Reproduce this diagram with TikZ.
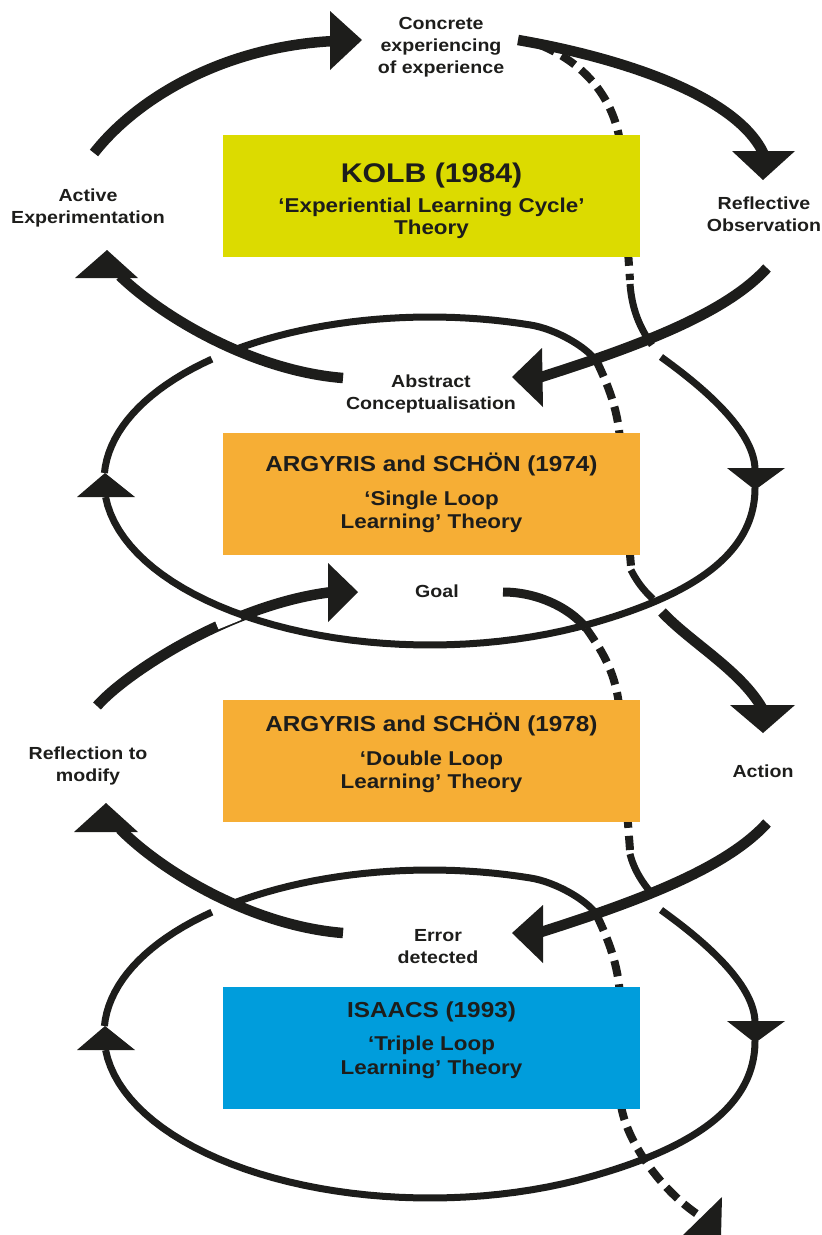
\documentclass[tikz,border=0pt]{standalone}
\usepackage{fontspec}
\setmainfont{Liberation Sans}[FakeStretch=1.12]
\definecolor{ink}{HTML}{1D1D1B}
\definecolor{kolbcol}{HTML}{DCDB00}
\definecolor{ascol}{HTML}{F6AE35}
\definecolor{isaacscol}{HTML}{009DDC}
\tikzset{
  thickarc/.style={draw=ink,line width=10.5pt},
  midarc/.style={draw=ink,line width=9pt},
  thinloop/.style={draw=ink,line width=7pt},
  backdash/.style={draw=ink,line width=8pt,dash pattern=on 16pt off 8pt},
  eraser/.style={draw=white,line width=13pt},
  headfill/.style={fill=ink},
  theorybox/.style={rectangle,minimum width=417pt,minimum height=122pt,inner sep=0pt,draw=none},
  lab/.style={font=\fontsize{17.5}{22}\selectfont\bfseries,text=ink,align=center,inner sep=0pt},
  boxtext/.style={font=\fontsize{20}{23}\selectfont\bfseries,text=ink,align=center,inner sep=0pt},
  frontloop/.pic={
    % right side, upper part (coming out from behind)
    \draw[thinloop] (661,357) .. controls (700,385) and (755,430) .. (755,470);
    % right side lower part, bottom and lower left side
    \draw[thinloop] (755,488) .. controls (755,560) and (680,598) .. (593,623)
      -- plot[domain=60:174.4,samples=40] ({430+326*cos(\x)},{481+164*sin(\x)});
    % left side upper part
    \draw[thinloop] plot[domain=182.8:228,samples=20] ({430+326*cos(\x)},{481+164*sin(\x)});
    % top arc, bending down at its right end
    \draw[thinloop] plot[domain=233:288,samples=25] ({430+326*cos(\x)},{481+164*sin(\x)})
      .. controls (555.7,329.1) and (587,347) .. (597,362);
    % arrowheads
    \fill[headfill] (755,490) -- (727,468) -- (785,468) -- cycle;
    \fill[headfill] (105,473) -- (77,497) -- (135,497) -- cycle;
  }
}
\begin{document}
\begin{tikzpicture}[x=1pt,y=-1pt]
\useasboundingbox (0,0) rectangle (822,1235);

% ---- back (hidden) parts of the spiral, dashed ----
\draw[backdash] (540,45) .. controls (590,65) and (617,105) .. (621,150) -- (630,280);
\draw[backdash] (597,362) .. controls (608,385) and (618,410) .. (620,440) -- (631,566);
\draw[backdash] (586,628) .. controls (600,648) and (615,670) .. (619,705) -- (630,850);
\draw[backdash] (597,916) .. controls (608,939) and (618,964) .. (620,995) -- (621,1105)
  .. controls (626,1140) and (660,1190) .. (700,1216);

% ---- theory boxes ----
\node[theorybox,fill=kolbcol] (kolb) at (431.5,196) {};
\node[theorybox,fill=ascol] (single) at (431.5,494) {};
\node[theorybox,fill=ascol] (double) at (431.5,761) {};
\node[theorybox,fill=isaacscol] (triple) at (431.5,1048) {};

\node[boxtext,font=\fontsize{20}{22}\selectfont\bfseries] (kolbtext) at (431.5,200.7)
  {{\fontsize{27}{30}\selectfont KOLB (1984)}\\[8.5pt]‘Experiential Learning Cycle’\\Theory};
\node[boxtext] (singletext) at (431.5,492.7)
  {{\fontsize{21.7}{26}\selectfont ARGYRIS and SCHÖN (1974)}\\[11.4pt]‘Single Loop\\Learning’ Theory};
\node[boxtext] (doubletext) at (431.5,753)
  {{\fontsize{21.7}{26}\selectfont ARGYRIS and SCHÖN (1978)}\\[10.9pt]‘Double Loop\\Learning’ Theory};
\node[boxtext,font=\fontsize{20}{24}\selectfont\bfseries] (tripletext) at (431.5,1040.2)
  {{\fontsize{21.7}{26}\selectfont ISAACS (1993)}\\[8.4pt]‘Triple Loop\\Learning’ Theory};

% ---- Kolb cycle (thick arcs) ----
\draw[thickarc] (94,153) .. controls (137,98) and (224,46.5) .. (334,41);
\draw[thickarc] (518,40) .. controls (616.5,57) and (740,95) .. (765,157);
\draw[thickarc] (767,268) .. controls (726.8,312.4) and (642.5,345) .. (538,378);
\draw[thickarc] (343,378) .. controls (253,370.8) and (163,317.4) .. (120,276);

% ---- double loop cycle ----
\draw[thickarc] (97,706) .. controls (126.7,672.2) and (232,604) .. (332,592);
\draw[eraser] (216,623.2) -- (239,613.8);
\draw[midarc] (503,592) .. controls (535,592) and (568,606) .. (586,628);
\draw[thickarc] (662,612) .. controls (690,642) and (740,670) .. (762,708);
\draw[thickarc] (767,823) .. controls (726.8,867.4) and (642.5,900) .. (538,933);
\draw[thickarc] (343,933) .. controls (253,925.8) and (163,872.4) .. (120,829);

% ---- short solid pieces where the back of the spiral comes to the front ----
\draw[thinloop] (630,284) .. controls (632,310) and (640,328) .. (652,345);
\draw[thinloop] (631,570) .. controls (636,580) and (643,590) .. (653,599);
\draw[thinloop] (630,854) .. controls (634,870) and (643,884) .. (654,896);

% ---- single and triple loops ----
\pic (singleloop) at (0,0) {frontloop};
\pic (tripleloop) at (0,553) {frontloop};

% ---- big arrowheads ----
\fill[headfill] (362,40) -- (330,11) -- (330,70) -- cycle;
\fill[headfill] (763,180) -- (732,151) -- (795,151) -- cycle;
\fill[headfill] (512,377) -- (542,348) -- (543,407) -- cycle;
\fill[headfill] (107,250) -- (75,278) -- (138,278) -- cycle;
\fill[headfill] (358,592) -- (328,563) -- (328,622) -- cycle;
\fill[headfill] (763,733) -- (730,705) -- (795,705) -- cycle;
\fill[headfill] (512,933) -- (543,905) -- (543,963) -- cycle;
\fill[headfill] (106,803) -- (74,832) -- (138,832) -- cycle;
\fill[headfill] (721,1237) -- (722,1197) -- (680,1238) -- cycle;

% ---- labels ----
\node[lab] (concrete) at (441,46.8) {Concrete\\experiencing\\of experience};
\node[lab] (active) at (88,208.3) {Active\\Experimentation};
\node[lab] (reflective) at (764,213.9) {Reflective\\Observation};
\node[lab] (abstract) at (431,393.8) {Abstract\\Conceptualisation};
\node[lab] (goal) at (437,591) {Goal};
\node[lab] (reflection) at (88,766.3) {Reflection to\\modify};
\node[lab] (action) at (763,771) {Action};
\node[lab] (error) at (438,947) {Error\\detected};
\end{tikzpicture}
\end{document}
